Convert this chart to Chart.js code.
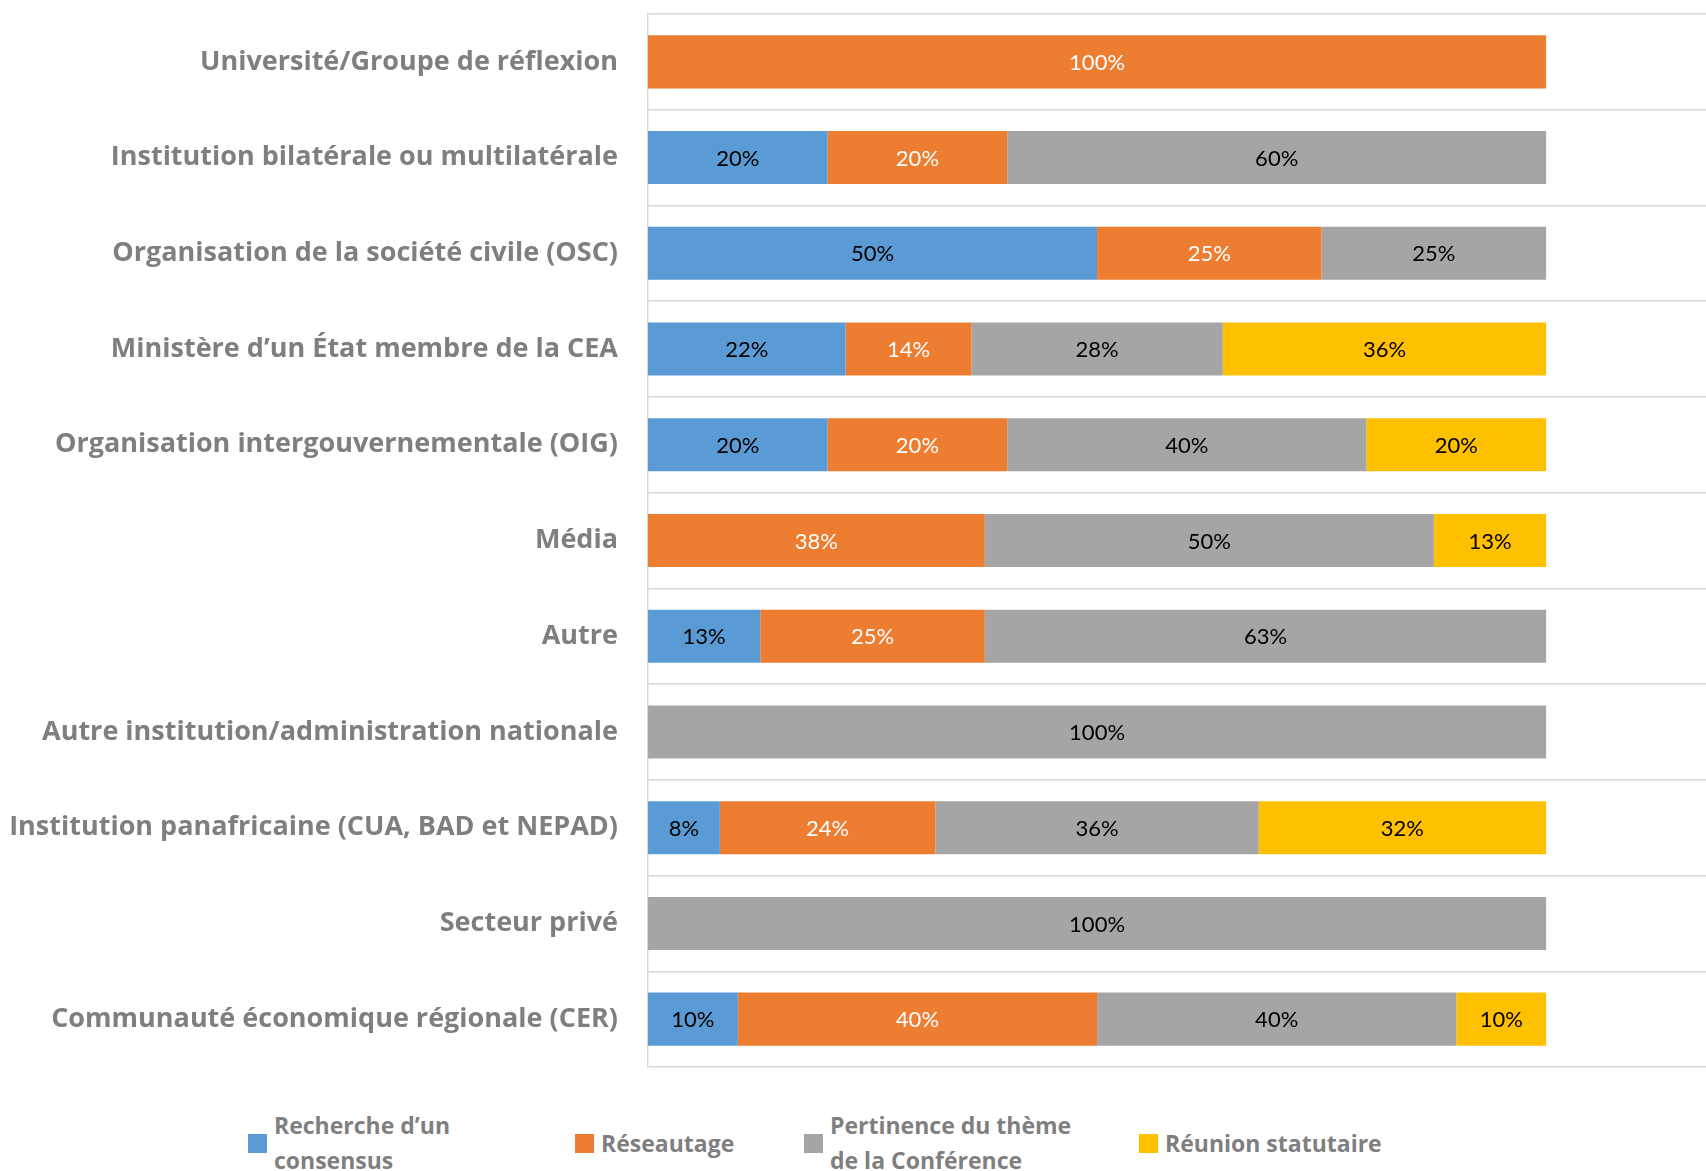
<!DOCTYPE html>
<html><head><meta charset="utf-8">
<script src="https://cdn.jsdelivr.net/npm/chart.js@4"></script>
<style>
html,body{margin:0;padding:0;background:#fff;overflow:hidden;width:1706px;height:1171px;}
#wrap{position:absolute;left:0;top:0;width:1706px;height:1100px;}
#legend{position:absolute;left:248px;top:1108px;height:70px;display:flex;align-items:center;font-family:'Open Sans',sans-serif;font-weight:bold;font-size:23px;color:#7f7f7f;line-height:35px;}
.item{display:flex;align-items:center;flex:none;}
.box{width:19px;height:19px;flex:none;margin-right:7px;}
</style></head><body>
<div id="wrap"><canvas id="c"></canvas></div>
<div id="legend"></div>
<script>
const categories = [
  "Université/Groupe de réflexion",
  "Institution bilatérale ou multilatérale",
  "Organisation de la société civile (OSC)",
  "Ministère d’un État membre de la CEA",
  "Organisation intergouvernementale (OIG)",
  "Média",
  "Autre",
  "Autre institution/administration nationale",
  "Institution panafricaine (CUA, BAD et NEPAD)",
  "Secteur privé",
  "Communauté économique régionale (CER)"
];
const seriesNames = ["Recherche d’un consensus", "Réseautage", "Pertinence du thème de la Conférence", "Réunion statutaire"];
const consensus  = [0, 20, 50, 22, 20, 0, 12.5, 0, 8, 0, 10];
const reseautage = [100, 20, 25, 14, 20, 37.5, 25, 0, 24, 0, 40];
const pertinence = [0, 60, 25, 28, 40, 50, 62.5, 100, 36, 100, 40];
const statutaire = [0, 0, 0, 36, 20, 12.5, 0, 0, 32, 0, 10];

const seriesColors = ['#5B9BD5', '#ED7D31', '#A5A5A5', '#FFC000'];
const labelColors = ['#000000', '#ffffff', '#000000', '#000000'];
const legendItemWidths = [327, 229, 335, null];
const legendTextWidths = [200, null, 262, null];

const valueLabels = {
  id: 'valueLabels',
  afterDatasetsDraw(chart) {
    const ctx = chart.ctx;
    ctx.save();
    ctx.font = '22px Lato';
    ctx.textAlign = 'center';
    ctx.textBaseline = 'middle';
    chart.data.datasets.forEach((ds, i) => {
      const meta = chart.getDatasetMeta(i);
      meta.data.forEach((el, j) => {
        const v = ds.data[j];
        if (!v) return;
        const p = el.getProps(['x', 'y', 'base'], true);
        ctx.fillStyle = labelColors[i];
        ctx.fillText(Math.round(v) + '%', (p.x + p.base) / 2, p.y + 1);
      });
    });
    ctx.restore();
  }
};

const allSeries = [consensus, reseautage, pertinence, statutaire];
const chart = new Chart(document.getElementById('c'), {
  type: 'bar',
  data: {
    labels: categories,
    datasets: allSeries.map((d, i) => ({
      label: seriesNames[i],
      data: d,
      backgroundColor: seriesColors[i],
      borderWidth: 0,
      barPercentage: 0.554,
      categoryPercentage: 1
    }))
  },
  options: {
    indexAxis: 'y',
    responsive: true,
    maintainAspectRatio: false,
    animation: false,
    layout: { padding: { top: 14, bottom: 33, left: 0, right: 0 } },
    plugins: { legend: { display: false }, tooltip: { enabled: false } },
    scales: {
      x: { stacked: true, min: 0, max: 117.8, display: false },
      y: {
        stacked: true,
        grid: { offset: true, color: '#D9D9D9', lineWidth: 1.5, drawTicks: false },
        border: { display: true, color: '#D9D9D9', width: 1.5 },
        ticks: { padding: 30, color: '#7F7F7F', font: { family: 'Open Sans', weight: 'bold', size: 27 } },
        afterFit(scale) { scale.width = 648; scale.paddingTop = 0; scale.paddingBottom = 0; }
      }
    }
  },
  plugins: [valueLabels]
});

// HTML legend from the library's legend items
const legendEl = document.getElementById('legend');
const items = Chart.defaults.plugins.legend.labels.generateLabels(chart);
items.forEach((it, i) => {
  const item = document.createElement('div');
  item.className = 'item';
  if (legendItemWidths[i]) item.style.width = legendItemWidths[i] + 'px';
  const box = document.createElement('span');
  box.className = 'box';
  box.style.background = it.fillStyle;
  const txt = document.createElement('span');
  txt.textContent = it.text;
  if (legendTextWidths[i]) txt.style.width = legendTextWidths[i] + 'px';
  else txt.style.whiteSpace = 'nowrap';
  item.appendChild(box);
  item.appendChild(txt);
  legendEl.appendChild(item);
});
</script>
</body></html>
